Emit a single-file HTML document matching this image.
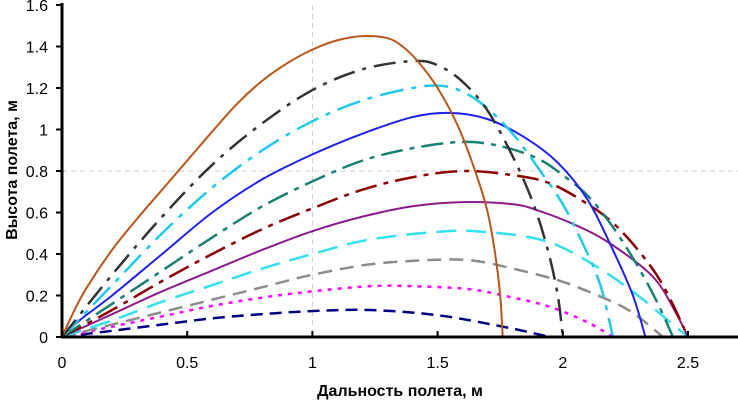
<!DOCTYPE html>
<html><head><meta charset="utf-8"><style>
body{margin:0;background:#fff}
svg{display:block;font-family:"Liberation Sans",Arial,sans-serif}
</style></head><body>
<svg id="chart" width="738" height="400" xmlns="http://www.w3.org/2000/svg"></svg>
<script>
const xTicks=[0,0.5,1,1.5,2,2.5];
const yTicks=[0,0.2,0.4,0.6,0.8,1,1.2,1.4,1.6];
const xTickLabels=["0","0.5","1","1.5","2","2.5"];
const yTickLabels=["0","0.2","0.4","0.6","0.8","1","1.2","1.4","1.6"];
const sBrown=[[0,0],[0.05,0.13],[0.1,0.24],[0.2,0.42],[0.3,0.57],[0.4,0.71],[0.5,0.85],[0.6,0.99],[0.7,1.125],[0.8,1.235],[0.9,1.32],[1,1.385],[1.1,1.43],[1.2,1.45],[1.3,1.44],[1.36,1.4],[1.42,1.33],[1.5,1.2],[1.58,1.02],[1.65,0.8],[1.7,0.6],[1.73,0.4],[1.75,0.2],[1.76,0]];
const sDarkGray=[[0,0],[0.2,0.3],[0.4,0.58],[0.6,0.83],[0.8,1.03],[1,1.19],[1.2,1.29],[1.4,1.33],[1.5,1.31],[1.6,1.23],[1.7,1.09],[1.8,0.87],[1.88,0.65],[1.94,0.42],[1.98,0.2],[2.0,0]];
const sCyan=[[0,0],[0.2,0.25],[0.4,0.5],[0.6,0.72],[0.8,0.9],[1,1.04],[1.2,1.14],[1.4,1.2],[1.52,1.21],[1.62,1.17],[1.72,1.08],[1.82,0.95],[1.91,0.8],[2.0,0.64],[2.08,0.45],[2.15,0.25],[2.2,0]];
const sBlue=[[0,0],[0.07,0.08],[0.2,0.2],[0.4,0.4],[0.6,0.6],[0.8,0.76],[1,0.88],[1.2,0.98],[1.4,1.06],[1.55,1.08],[1.7,1.05],[1.85,0.96],[1.98,0.84],[2.1,0.66],[2.2,0.42],[2.28,0.2],[2.33,0]];
const sTeal=[[0,0],[0.2,0.16],[0.4,0.32],[0.6,0.48],[0.8,0.63],[1,0.75],[1.2,0.85],[1.4,0.91],[1.6,0.94],[1.75,0.92],[1.9,0.86],[2.0,0.78],[2.1,0.68],[2.2,0.53],[2.3,0.34],[2.38,0.16],[2.44,0]];
const sDarkRed=[[0,0],[0.2,0.13],[0.4,0.27],[0.6,0.4],[0.8,0.52],[1,0.62],[1.2,0.71],[1.4,0.77],[1.6,0.8],[1.8,0.78],[1.95,0.74],[2.1,0.64],[2.2,0.55],[2.3,0.42],[2.4,0.25],[2.5,0]];
const sPurple=[[0,0],[0.2,0.11],[0.4,0.22],[0.6,0.32],[0.8,0.42],[1,0.51],[1.2,0.58],[1.4,0.63],[1.6,0.65],[1.8,0.64],[1.9,0.61],[2.05,0.54],[2.19,0.45],[2.36,0.29],[2.45,0.12],[2.5,0]];
const sLightCyan=[[0,0],[0.2,0.08],[0.4,0.17],[0.6,0.25],[0.8,0.33],[1,0.4],[1.23,0.47],[1.54,0.51],[1.7,0.505],[1.87,0.48],[2.0,0.43],[2.16,0.32],[2.3,0.2],[2.42,0.08],[2.5,0]];
const sGray=[[0,0],[0.2,0.06],[0.4,0.12],[0.6,0.18],[0.8,0.24],[1,0.3],[1.23,0.35],[1.45,0.37],[1.63,0.37],[1.8,0.33],[1.99,0.27],[2.12,0.21],[2.24,0.145],[2.32,0.08],[2.4,0]];
const sMagenta=[[0,0],[0.2,0.05],[0.4,0.1],[0.6,0.15],[0.8,0.19],[1,0.22],[1.23,0.245],[1.4,0.245],[1.63,0.23],[1.8,0.19],[1.95,0.145],[2.1,0.07],[2.2,0]];
const sNavy=[[0,0],[0.2,0.03],[0.4,0.06],[0.6,0.09],[0.8,0.11],[1,0.125],[1.23,0.13],[1.5,0.105],[1.76,0.05],[1.95,0]];

const NS="http://www.w3.org/2000/svg";
const svg=document.getElementById('chart');
const X=v=>62+v*250.4;
const Y=v=>337-v*207.5;
function mk(tag,attrs,parent){const e=document.createElementNS(NS,tag);for(const k in attrs)e.setAttribute(k,attrs[k]);(parent||svg).appendChild(e);return e;}
function path(pts){
  const p=pts.map(d=>[X(d[0]),Y(d[1])]);
  let s="M"+p[0][0]+","+p[0][1];
  for(let i=0;i<p.length-1;i++){
    const p0=p[i-1]||p[i],p1=p[i],p2=p[i+1],p3=p[i+2]||p2;
    const c1=[p1[0]+(p2[0]-p0[0])/6,p1[1]+(p2[1]-p0[1])/6];
    const c2=[p2[0]-(p3[0]-p1[0])/6,p2[1]-(p3[1]-p1[1])/6];
    s+="C"+c1+" "+c2+" "+p2;
  }
  return s;
}
let g=mk('line',{x1:X(1),x2:X(1),y1:Y(1.6),y2:Y(0),stroke:'#ccc','stroke-width':1,'stroke-dasharray':'5,4'});

g=mk('line',{x1:X(0),x2:738,y1:Y(0.8),y2:Y(0.8),stroke:'#ccc','stroke-width':1,'stroke-dasharray':'5,4'});


const series=[
 [sNavy,'#000080',2.5,'12,7','series-navy'],
 [sMagenta,'#ff00ff',2.5,'4,6','series-magenta'],
 [sGray,'#8c8c8c',2.5,'14,8','series-gray'],
 [sLightCyan,'#33e0ee',2.5,'20,10','series-light-cyan'],
 [sPurple,'#8b1a8b',2,'none','series-purple'],
 [sDarkRed,'#8b0000',2.5,'22,7,5,7','series-dark-red'],
 [sTeal,'#1a8070',2.5,'22,7,5,7','series-teal'],
 [sBlue,'#2020e8',2,'none','series-blue'],
 [sCyan,'#20c8ec',2.5,'24,8,5,8','series-cyan'],
 [sDarkGray,'#333333',2.5,'22,8,4,8','series-dark-gray'],
 [sBrown,'#b8561c',2,'none','series-brown']
];
series.forEach(s=>{
  const e=mk('path',{d:path(s[0]),fill:'none',stroke:s[1],'stroke-width':s[2],'stroke-dasharray':s[3]});
  
  
});
let a=mk('line',{x1:X(0),x2:X(0),y1:Y(1.6)-2,y2:Y(0)+1,stroke:'#000','stroke-width':3});

a=mk('line',{x1:X(0)-1,x2:738,y1:Y(0),y2:Y(0),stroke:'#000','stroke-width':3});

yTicks.forEach((v,i)=>{
  const t=mk('line',{x1:X(0)-6,x2:X(0),y1:Y(v),y2:Y(v),stroke:'#000','stroke-width':2});
  
  const l=mk('text',{x:48,y:Y(v)+6,'text-anchor':'end','font-size':16,fill:'#000'});
  l.textContent=yTickLabels[i];
  
});
xTicks.forEach((v,i)=>{
  const t=mk('line',{x1:X(v),x2:X(v),y1:Y(0),y2:Y(0)-6,stroke:'#000','stroke-width':2});
  
  const l=mk('text',{x:X(v),y:368,'text-anchor':'middle','font-size':16,fill:'#000'});
  l.textContent=xTickLabels[i];
  
});
let t=mk('text',{x:400,y:396,'text-anchor':'middle','font-size':16,'font-weight':'bold',fill:'#000'});
t.textContent='Дальность полета, м';

t=mk('text',{x:0,y:0,'text-anchor':'middle','font-size':16,'font-weight':'bold',fill:'#000',transform:'translate(17,170) rotate(-90)'});
t.textContent='Высота полета, м';

</script>
</body></html>
